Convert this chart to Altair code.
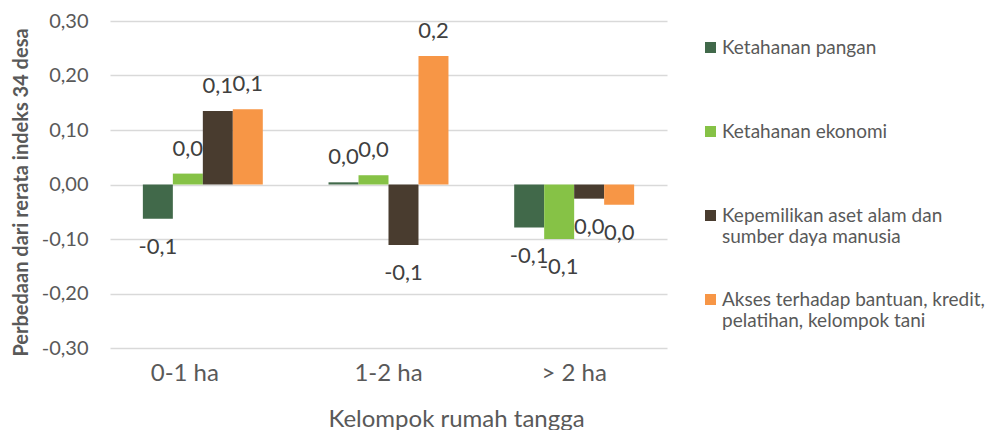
import altair as alt
import pandas as pd

groups = ["0-1 ha", "1-2 ha", "> 2 ha"]
series = [
    "Ketahanan pangan",
    "Ketahanan ekonomi",
    "Kepemilikan aset alam dan sumber daya manusia",
    "Akses terhadap bantuan, kredit, pelatihan, kelompok tani",
]
legend_lines = [
    ["Ketahanan pangan", ""],
    ["Ketahanan ekonomi", ""],
    ["Kepemilikan aset alam dan", "sumber daya manusia"],
    ["Akses terhadap bantuan, kredit,", "pelatihan, kelompok tani"],
]
colors = ["#41694A", "#86C246", "#493C2F", "#F79646"]

pangan = [-0.063, 0.004, -0.079]
ekonomi = [0.020, 0.017, -0.100]
kepemilikan = [0.135, -0.111, -0.026]
akses = [0.138, 0.236, -0.037]

y_ticks = [-0.3, -0.2, -0.1, 0.0, 0.1, 0.2, 0.3]

rows = []
for s, vals in zip(series, [pangan, ekonomi, kepemilikan, akses]):
    for g, v in zip(groups, vals):
        rows.append({"kelompok": g, "seri": s, "nilai": v})
df = pd.DataFrame(rows)

MINUS = "\u2212"
lbl_expr = f"replace(replace(format(datum.nilai, '.1f'), '.', ','), '{MINUS}', '-')"
ytick_expr = f"replace(replace(format(datum.value, '.2f'), '.', ','), '{MINUS}', '-')"

leg_expr = "''"
for s, lines in reversed(list(zip(series, legend_lines))):
    arr = "[" + ", ".join(f"'{l}'" for l in lines) + "]"
    leg_expr = f"datum.label == '{s}' ? {arr} : ({leg_expr})"

GREY = "#595959"

x = alt.X(
    "kelompok:N",
    sort=groups,
    scale=alt.Scale(paddingInner=0.354, paddingOuter=0.177),
    axis=alt.Axis(
        title="Kelompok rumah tangga",
        labelAngle=0,
        labelOffset={"condition": {"test": f"datum.value == '{groups[0]}'", "value": -18}, "value": 0},
        domain=False,
        ticks=False,
        labelPadding=25,
        labelBaseline="middle",
        labelFontSize=24,
        labelColor=GREY,
        titleFontSize=24,
        titleColor=GREY,
        titleFontWeight="normal",
        titleX=346,
        titleY=71,
        titleBaseline="middle",
        titleAlign="center",
    ),
)
y = alt.Y(
    "nilai:Q",
    scale=alt.Scale(domain=[-0.3, 0.3], nice=False, zero=False),
    axis=alt.Axis(
        values=y_ticks,
        labelExpr=ytick_expr,
        grid=True,
        gridColor="#d9d9d9",
        gridWidth=1.3,
        domain=False,
        ticks=False,
        labelPadding=22,
        labelFontSize=20,
        labelColor=GREY,
        title="Perbedaan dari rerata indeks 34 desa",
        titleFontSize=20,
        titleFontWeight="bold",
        titleColor=GREY,
        titleX=-89,
        titleY=171,
        titleBaseline="middle",
        titleAlign="center",
    ),
)
xoff = alt.XOffset("seri:N", sort=series, scale=alt.Scale(paddingInner=0, paddingOuter=0))
color = alt.Color(
    "seri:N",
    sort=series,
    scale=alt.Scale(domain=series, range=colors),
    legend=alt.Legend(
        title=None,
        orient="none",
        legendX=591,
        legendY=17,
        symbolType="square",
        symbolSize=121,
        symbolStrokeWidth=0,
        labelFontSize=19,
        labelColor=GREY,
        labelExpr=leg_expr,
        labelLimit=400,
        labelOffset=2,
        labelBaseline="middle",
        rowPadding=43,
        padding=0,
    ),
)

base = alt.Chart(df).transform_calculate(lbl=lbl_expr)

pos_text = base.transform_filter("datum.nilai >= 0").mark_text(
    dy=-25, fontSize=22, color="#404040", baseline="middle"
).encode(x=x, xOffset=xoff, y=y, text="lbl:N")
neg_text = base.transform_filter("datum.nilai < 0").mark_text(
    dy=28, fontSize=22, color="#404040", baseline="middle"
).encode(x=x, xOffset=xoff, y=y, text="lbl:N")
bars = base.mark_bar().encode(x=x, xOffset=xoff, y=y, color=color)

chart = (
    alt.layer(pos_text, neg_text, bars)
    .properties(
        width=557,
        height=327,
        autosize=alt.AutoSizeParams(type="none"),
        padding={"left": 102, "top": 13, "right": 325, "bottom": 82},
    )
    .configure(font="Lato")
    .configure_view(stroke=None)
)

chart.save("out.html", embed_options={"renderer": "svg", "actions": False})
